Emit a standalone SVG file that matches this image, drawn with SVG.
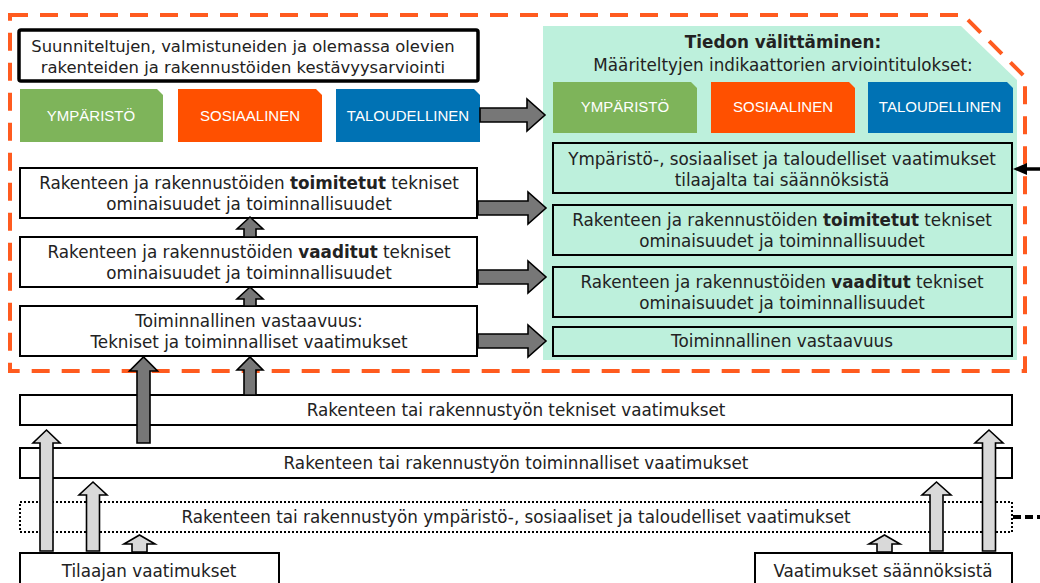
<svg xmlns="http://www.w3.org/2000/svg" width="1040" height="583" viewBox="0 0 1040 583">
<defs>
<style>
.t{font-family:"DejaVu Sans",Verdana,sans-serif;font-size:16.8px;fill:#222;text-anchor:middle}
.ti{font-size:16.4px}
.b{font-weight:bold}
.tag{font-family:"Liberation Sans",Arial,sans-serif;font-size:15px;fill:#fff;text-anchor:middle}
.box{fill:#fff;stroke:#000;stroke-width:2}
.pbox{fill:#BDF0DC;stroke:#000;stroke-width:2}
.dark{fill:#777;stroke:#000;stroke-width:1.6;stroke-linejoin:miter}
.light{fill:#D9D9D9;stroke:#000;stroke-width:1.6;stroke-linejoin:miter}
</style>
</defs>
<rect width="1040" height="583" fill="#fff"/>
<g id="panel">
<path d="M543,26 H961 L1017,80 V360 H543 Z" fill="#BDF0DC"/>
<text class="t b" x="783" y="48">Tiedon välittäminen:</text>
<text class="t" x="783" y="71">Määriteltyjen indikaattorien arviointitulokset:</text>
</g>
<g id="frame">
<path d="M10,15 H963 L1025,77 V371 H10 Z" fill="none" stroke="#FF5B1F" stroke-width="4" stroke-dasharray="18 12"/>
</g>
<g id="title">
<rect x="19" y="30" width="459" height="51" rx="2" fill="#fff" stroke="#000" stroke-width="3.5"/>
<text class="t ti" x="243" y="52">Suunniteltujen, valmistuneiden ja olemassa olevien</text>
<text class="t ti" x="243" y="73">rakenteiden ja rakennustöiden kestävyysarviointi</text>
</g>
<g id="tag-ymparisto-l"><polygon points="20,89 157,89 163,95 163,142 20,142" fill="#7EB45A"/><text class="tag" x="91" y="121">YMPÄRISTÖ</text></g>
<g id="tag-sosiaalinen-l"><polygon points="178,89 316,89 322,95 322,142 178,142" fill="#FF5000"/><text class="tag" x="250" y="121">SOSIAALINEN</text></g>
<g id="tag-taloudellinen-l"><polygon points="336,89 474,89 480,95 480,142 336,142" fill="#0072B4"/><text class="tag" x="408" y="121">TALOUDELLINEN</text></g>
<g id="tag-ymparisto-r"><polygon points="553,82 691,82 697,88 697,133 553,133" fill="#7EB45A"/><text class="tag" x="625" y="112">YMPÄRISTÖ</text></g>
<g id="tag-sosiaalinen-r"><polygon points="711,82 849,82 855,88 855,133 711,133" fill="#FF5000"/><text class="tag" x="783" y="112">SOSIAALINEN</text></g>
<g id="tag-taloudellinen-r"><polygon points="868,82 1007,82 1013,88 1013,133 868,133" fill="#0072B4"/><text class="tag" x="940" y="112">TALOUDELLINEN</text></g>
<g id="left-toimitetut"><rect class="box" x="20" y="168" width="457" height="50"/>
<text class="t" x="249" y="189">Rakenteen ja rakennustöiden <tspan class="b">toimitetut</tspan> tekniset</text>
<text class="t" x="249" y="210">ominaisuudet ja toiminnallisuudet</text></g>
<g id="left-vaaditut"><rect class="box" x="20" y="237" width="457" height="50"/>
<text class="t" x="249" y="258">Rakenteen ja rakennustöiden <tspan class="b">vaaditut</tspan> tekniset</text>
<text class="t" x="249" y="279">ominaisuudet ja toiminnallisuudet</text></g>
<g id="left-vastaavuus"><rect class="box" x="20" y="306" width="457" height="50"/>
<text class="t" x="249" y="327">Toiminnallinen vastaavuus:</text>
<text class="t" x="249" y="348">Tekniset ja toiminnalliset vaatimukset</text></g>
<g id="right-vaatimukset"><rect class="pbox" x="553" y="143" width="459" height="50"/>
<text class="t" x="782" y="165">Ympäristö-, sosiaaliset ja taloudelliset vaatimukset</text>
<text class="t" x="782" y="186">tilaajalta tai säännöksistä</text></g>
<g id="right-toimitetut"><rect class="pbox" x="553" y="205" width="459" height="50"/>
<text class="t" x="782" y="226">Rakenteen ja rakennustöiden <tspan class="b">toimitetut</tspan> tekniset</text>
<text class="t" x="782" y="247">ominaisuudet ja toiminnallisuudet</text></g>
<g id="right-vaaditut"><rect class="pbox" x="553" y="267" width="459" height="50"/>
<text class="t" x="782" y="288">Rakenteen ja rakennustöiden <tspan class="b">vaaditut</tspan> tekniset</text>
<text class="t" x="782" y="309">ominaisuudet ja toiminnallisuudet</text></g>
<g id="right-vastaavuus"><rect class="pbox" x="553" y="327" width="459" height="29"/>
<text class="t" x="782" y="347">Toiminnallinen vastaavuus</text></g>
<g id="tekniset"><rect class="box" x="20" y="395" width="992" height="30"/>
<text class="t" x="516" y="416">Rakenteen tai rakennustyön tekniset vaatimukset</text></g>
<g id="toiminnalliset"><rect class="box" x="20" y="448" width="992" height="30"/>
<text class="t" x="516" y="469">Rakenteen tai rakennustyön toiminnalliset vaatimukset</text></g>
<g id="kestavyys"><rect x="20" y="502" width="992" height="30" fill="#fff" stroke="#000" stroke-width="2" stroke-dasharray="2 2"/>
<text class="t" x="516" y="523">Rakenteen tai rakennustyön ympäristö-, sosiaaliset ja taloudelliset vaatimukset</text></g>
<g id="tilaaja"><rect class="box" x="20" y="553" width="259" height="40"/>
<text class="t" x="149" y="577">Tilaajan vaatimukset</text></g>
<g id="saannokset"><rect class="box" x="755" y="553" width="257" height="40"/>
<text class="t" x="883" y="577">Vaatimukset säännöksistä</text></g>
<g id="connectors">
<polygon class="dark" points="480,108 527,108 527,99 545,115 527,131 527,122 480,122"/>
<polygon class="dark" points="478,201 528,201 528,192 546,208 528,224 528,215 478,215"/>
<polygon class="dark" points="478,270 528,270 528,261 546,277 528,293 528,284 478,284"/>
<polygon class="dark" points="478,334 528,334 528,325 546,341 528,357 528,348 478,348"/>
<polygon class="dark" points="244,237 244,229 237,229 250,217 263,229 256,229 256,237"/>
<polygon class="dark" points="244,306 244,299 237,299 250,287 263,299 256,299 256,306"/>
<polygon class="dark" points="137,443 137,371 129.5,371 143.5,357 157.5,371 150,371 150,443"/>
<polygon class="dark" points="244,395 244,370 237,370 250,357 263,370 256,370 256,395"/>
<polygon class="light" points="40,551 40,443 33,443 46.5,430 60,443 53,443 53,551"/>
<polygon class="light" points="86.5,551 86.5,495 79,495 93,482 107,495 99.5,495 99.5,551"/>
<polygon class="light" points="132,552 132,544 124,544 139.5,535 155,544 147,544 147,552"/>
<polygon class="light" points="982.5,551 982.5,443 975,443 989,430 1003,443 995.5,443 995.5,551"/>
<polygon class="light" points="930,551 930,495 922,495 936.5,482 951,495 943,495 943,551"/>
<polygon class="light" points="877,552 877,544 869,544 884.5,535 900,544 892,544 892,552"/>
<line x1="1025" y1="169" x2="1040" y2="169" stroke="#000" stroke-width="3.5"/>
<polygon points="1013,169 1027,163 1027,175" fill="#000"/>
<line x1="1013" y1="517" x2="1040" y2="517" stroke="#000" stroke-width="4" stroke-dasharray="8 4"/>
</g>
</svg>
